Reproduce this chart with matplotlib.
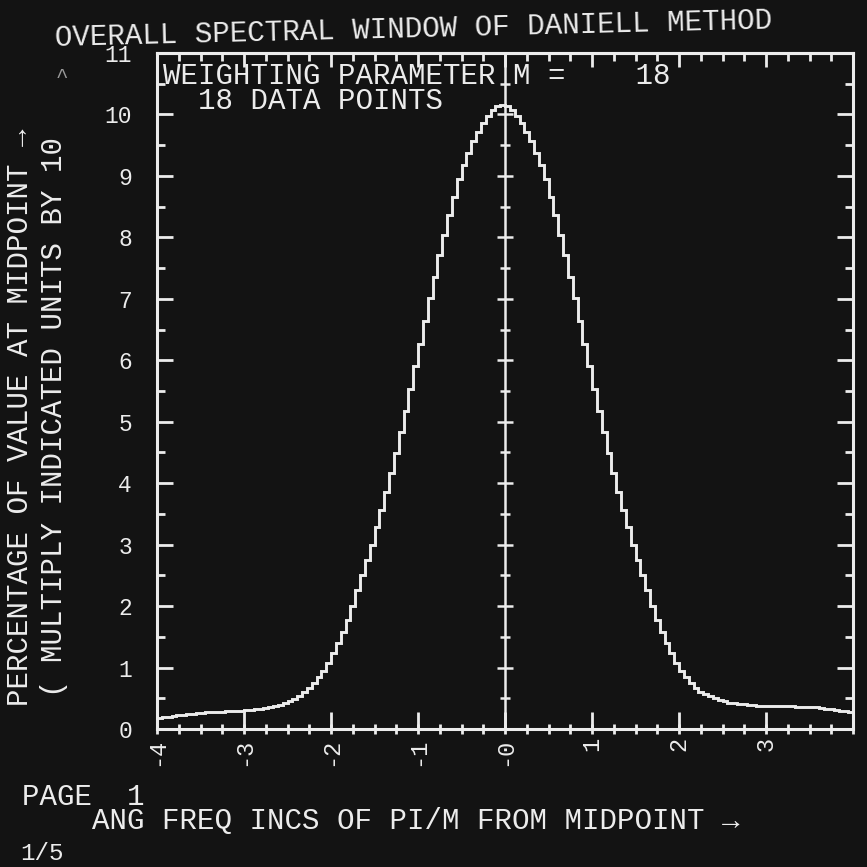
import numpy as np
import matplotlib
matplotlib.use("Agg")
import matplotlib.pyplot as plt
from matplotlib.ticker import MultipleLocator

# ---------------- data ----------------
steps_per_unit = 18                      # "18 DATA POINTS" per increment
step_index = np.arange(-72, 73)          # frequency steps from -4 to +4
# window values (percentage of midpoint value / 10), left part k=-72..-1
window_left = [
    0.17, 0.18, 0.19, 0.20, 0.21, 0.22, 0.23, 0.24, 0.25,
    0.26, 0.26, 0.27, 0.27, 0.28, 0.28, 0.29, 0.29, 0.30, 0.30,
    0.31, 0.31, 0.32, 0.33, 0.34, 0.35, 0.37, 0.39, 0.42, 0.45,
    0.49, 0.54, 0.61, 0.67, 0.75, 0.84, 0.95, 1.08, 1.23, 1.40,
    1.58, 1.78, 2.00, 2.26, 2.50, 2.75, 3.00, 3.28, 3.56, 3.85,
    4.16, 4.49, 4.83, 5.18, 5.53, 5.90, 6.27, 6.64, 7.01, 7.36,
    7.71, 8.04, 8.36, 8.65, 8.95, 9.17, 9.38, 9.56, 9.71, 9.86,
    9.98, 10.07, 10.14,
]
# right part k=0..72
window_right = [
    10.16, 10.14, 10.07, 9.98, 9.86, 9.71, 9.56, 9.38, 9.17, 8.95,
    8.65, 8.36, 8.04, 7.71, 7.36, 7.01, 6.64, 6.27, 5.90, 5.53,
    5.18, 4.83, 4.49, 4.16, 3.85, 3.56, 3.28, 3.00, 2.75, 2.50,
    2.26, 2.00, 1.78, 1.58, 1.40, 1.23, 1.08, 0.95, 0.84, 0.75,
    0.67, 0.61, 0.57, 0.54, 0.50, 0.47, 0.45, 0.43, 0.42, 0.41,
    0.40, 0.39, 0.39, 0.38, 0.38, 0.38, 0.38, 0.37, 0.37, 0.37,
    0.37, 0.36, 0.36, 0.36, 0.35, 0.35, 0.34, 0.33, 0.32, 0.31,
    0.30, 0.29, 0.28,
]
x_ticks = [-4, -3, -2, -1, 0, 1, 2, 3, 4]
x_tick_labels = ["-4", "-3", "-2", "-1", "-0", "1", "2", "3", ""]
y_ticks = list(range(0, 12))
y_tick_labels = [str(v) for v in y_ticks]

title = "OVERALL SPECTRAL WINDOW OF DANIELL METHOD"
info_text = "WEIGHTING PARAMETER M =    18\n  18 DATA POINTS"
ylabel_text = "PERCENTAGE OF VALUE AT MIDPOINT \u2192\n( MULTIPLY INDICATED UNITS BY 10"
bottom_text = "PAGE  1\n    ANG FREQ INCS OF PI/M FROM MIDPOINT \u2192"
frame_text = "1/5"

# ---------------- style ----------------
W = 867
BG = "#131313"
FG = "#ececec"
MONO = ["Liberation Mono", "DejaVu Sans Mono"]


def fx(px):
    return px / W


def fy(py):
    return 1 - py / W


freq = step_index / steps_per_unit
values = window_left + window_right

fig = plt.figure(figsize=(8.67, 8.67), dpi=100, facecolor=BG)
ax = fig.add_axes([fx(157), fy(729), (853 - 157) / W, (729 - 53) / W], facecolor=BG)
ax.set_xlim(-4, 4)
ax.set_ylim(0, 11)

# staircase window
ax.plot(freq, values, drawstyle="steps-pre", color=FG, lw=2.1, solid_joinstyle="miter")

# centre line with small cross ticks
ax.axvline(0, color=FG, lw=1.8)
half_marks = np.arange(0.5, 11, 1.0)
int_marks = np.arange(1, 11, 1.0)
ax.plot(np.zeros(len(int_marks)), int_marks, ls="none", marker="_", ms=11, mew=1.8, color=FG)
ax.plot(np.zeros(len(half_marks)), half_marks, ls="none", marker="_", ms=7, mew=1.8, color=FG)

for s in ax.spines.values():
    s.set_color(FG)
    s.set_linewidth(2.2)

# x axis (bottom)
ax.set_xticks(x_ticks)
ax.set_xticklabels(x_tick_labels, rotation=90, family=MONO, fontsize=17, color=FG)
ax.xaxis.set_minor_locator(MultipleLocator(0.25))
ax.xaxis.remove_overlapping_locs = False
ax.tick_params(axis="x", which="major", direction="in", length=12, width=2, color=FG, pad=6,
               top=False)
ax.tick_params(axis="x", which="minor", direction="inout", length=7, width=2, color=FG, top=False)

# top ticks
top = ax.secondary_xaxis("top")
top.set_xticks(x_ticks)
top.xaxis.set_minor_locator(MultipleLocator(0.25))
top.tick_params(which="major", direction="in", length=10, width=2, color=FG, labeltop=False)
top.tick_params(which="minor", direction="in", length=5.5, width=2, color=FG)
top.spines["top"].set_color(FG)
top.spines["top"].set_linewidth(2.2)

# y axis
ax.set_yticks(y_ticks)
ax.set_yticklabels(y_tick_labels, family=MONO, fontsize=16.5, color=FG)
ax.yaxis.set_minor_locator(MultipleLocator(0.5))
ax.tick_params(axis="y", which="major", direction="in", length=11.5, width=2, color=FG, pad=18,
               right=True)
ax.tick_params(axis="y", which="minor", direction="in", length=5.5, width=2, color=FG, right=True)

# texts
fig.text(fx(55), fy(38), title, family=MONO, fontsize=21.1, color=FG, ha="left", va="center",
         rotation=1.4, rotation_mode="anchor")
fig.text(fx(163), fy(62), info_text, family=MONO, fontsize=21, color=FG, ha="left", va="top",
         linespacing=0.88)
fig.text(fx(62), fy(76), "^", family=MONO, fontsize=15, color="#9a9a9a", ha="center", va="center")
fig.text(fx(37), fy(706), ylabel_text, family=MONO, fontsize=21, color=FG, rotation=90,
         ha="center", va="bottom", linespacing=1.3)
fig.text(fx(22), fy(783), bottom_text, family=MONO, fontsize=21, color=FG, ha="left", va="top",
         linespacing=0.82)
fig.text(fx(20), fy(853), frame_text, family=MONO, fontsize=17.5, color=FG, ha="left",
         va="center")

fig.savefig("out.png", dpi=100, facecolor=BG)
